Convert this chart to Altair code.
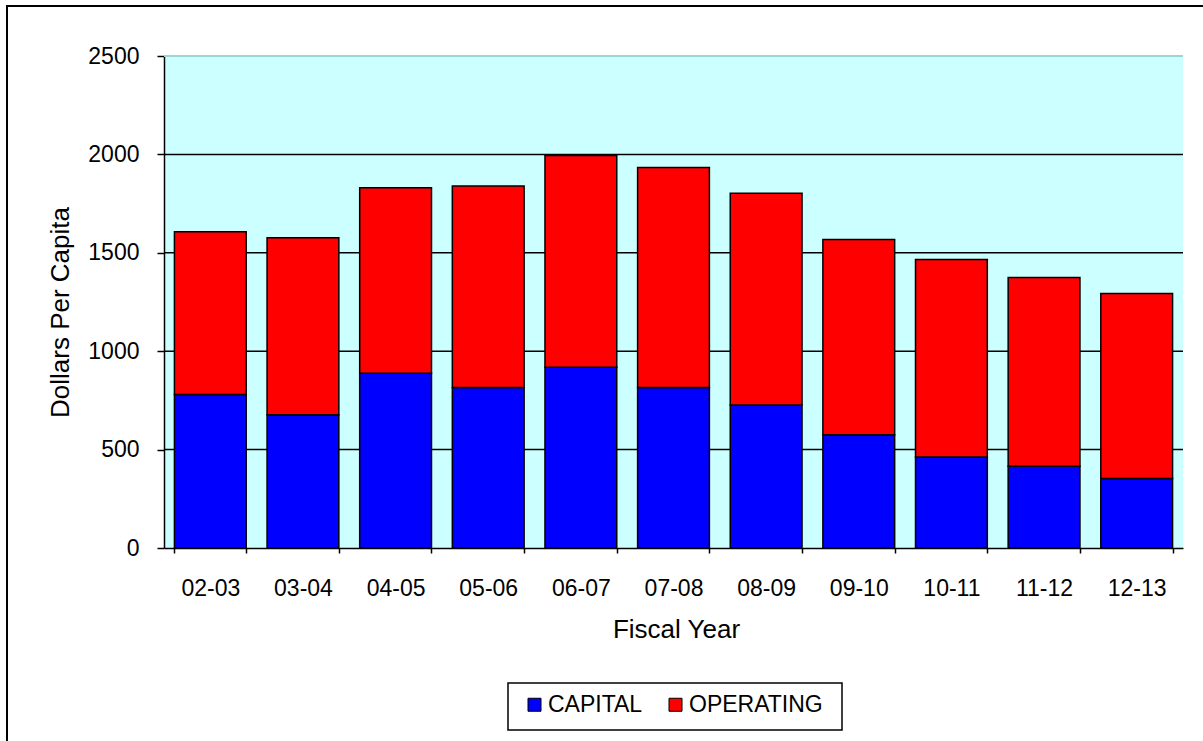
import altair as alt
import pandas as pd

# Per-capita spending by fiscal year, split into capital and operating dollars
years = ["02-03", "03-04", "04-05", "05-06", "06-07", "07-08",
         "08-09", "09-10", "10-11", "11-12", "12-13"]
capital = [780, 677, 888, 816, 919, 816, 727, 576, 463, 415, 353]
operating = [827, 899, 943, 1024, 1076, 1118, 1075, 991, 1003, 960, 940]
series = ["CAPITAL", "OPERATING"]
series_colors = ["#0000FF", "#FF0000"]
y_ticks = [0, 500, 1000, 1500, 2000, 2500]
grid_values = [500, 1000, 1500, 2000]

rows = []
for i, yr in enumerate(years):
    rows.append({"year": yr, "series": series[0], "value": capital[i], "stack_order": 0})
    rows.append({"year": yr, "series": series[1], "value": operating[i], "stack_order": 1})
df = pd.DataFrame(rows)

W, H = 1019, 492
FONT = "Liberation Sans"

x_enc = alt.X(
    "year:N",
    sort=years,
    scale=alt.Scale(paddingInner=0.225, paddingOuter=0.1125),
    axis=alt.Axis(
        title="Fiscal Year",
        titleFont=FONT, titleFontSize=26, titleFontWeight="normal", titleColor="black",
        titleX=512, titleY=68, titleBaseline="top", titleAlign="center",
        labelFont=FONT, labelFontSize=23, labelColor="black", labelAngle=0,
        labelPadding=24, tickBand="extent", tickSize=5, tickColor="black",
        tickWidth=1.5, domainColor="black", domainWidth=1.5,
    ),
)

y_scale = alt.Scale(domain=[0, 2500], nice=False)

bars = alt.Chart(df).mark_bar(stroke="black", strokeWidth=1.5).encode(
    x=x_enc,
    y=alt.Y(
        "value:Q",
        stack="zero",
        scale=y_scale,
        axis=alt.Axis(
            values=y_ticks, grid=False, format="d",
            title="Dollars Per Capita",
            titleFont=FONT, titleFontSize=26, titleFontWeight="normal", titleColor="black",
            titleAngle=270, titleX=-117, titleY=256, titleBaseline="top", titleAlign="center",
            labelFont=FONT, labelFontSize=23, labelColor="black",
            labelPadding=18, tickSize=7, tickColor="black", tickWidth=1.5,
            domainColor="black", domainWidth=1.5,
        ),
    ),
    color=alt.Color(
        "series:N",
        scale=alt.Scale(domain=series, range=series_colors),
        legend=alt.Legend(
            title=None, orient="none", direction="horizontal",
            legendX=359, legendY=637,
            symbolType="square", symbolSize=169,
            symbolStrokeColor="black", symbolStrokeWidth=1,
            labelFont=FONT, labelFontSize=23, labelColor="black",
            labelOffset=2, columnPadding=21, padding=0,
        ),
    ),
    order=alt.Order("stack_order:Q", sort="ascending"),
)

grid = alt.Chart(pd.DataFrame({"v": grid_values})).mark_rule(
    color="black", strokeWidth=1.5
).encode(y=alt.Y("v:Q", scale=y_scale))

top_line = alt.Chart(pd.DataFrame({"v": [2500]})).mark_rule(
    color="#9FD4D4", strokeWidth=2
).encode(y=alt.Y("v:Q", scale=y_scale))

# legend frame
legend_box = alt.Chart(pd.DataFrame({"k": [0]})).mark_rect(
    fill="white", fillOpacity=0, stroke="black", strokeWidth=1.5
).encode(
    x=alt.value(344), x2=alt.value(678),
    y=alt.value(627), y2=alt.value(674),
)

# outer chart frame
frame = alt.Chart(pd.DataFrame({"k": [0]})).mark_rect(
    fill="white", fillOpacity=0, stroke="black", strokeWidth=2
).encode(
    x=alt.value(-157), x2=alt.value(1200),
    y=alt.value(-50), y2=alt.value(800),
)

chart = alt.layer(frame, top_line, grid, bars, legend_box).properties(
    width=W, height=H,
    autosize=alt.AutoSizeParams(type="none"),
    padding={"left": 164, "top": 56, "right": 20, "bottom": 193},
    background="white",
).configure_view(
    fill="#CCFFFF", strokeWidth=0,
).resolve_scale(y="shared")

chart.save("out.html", embed_options={"renderer": "svg", "actions": False})
